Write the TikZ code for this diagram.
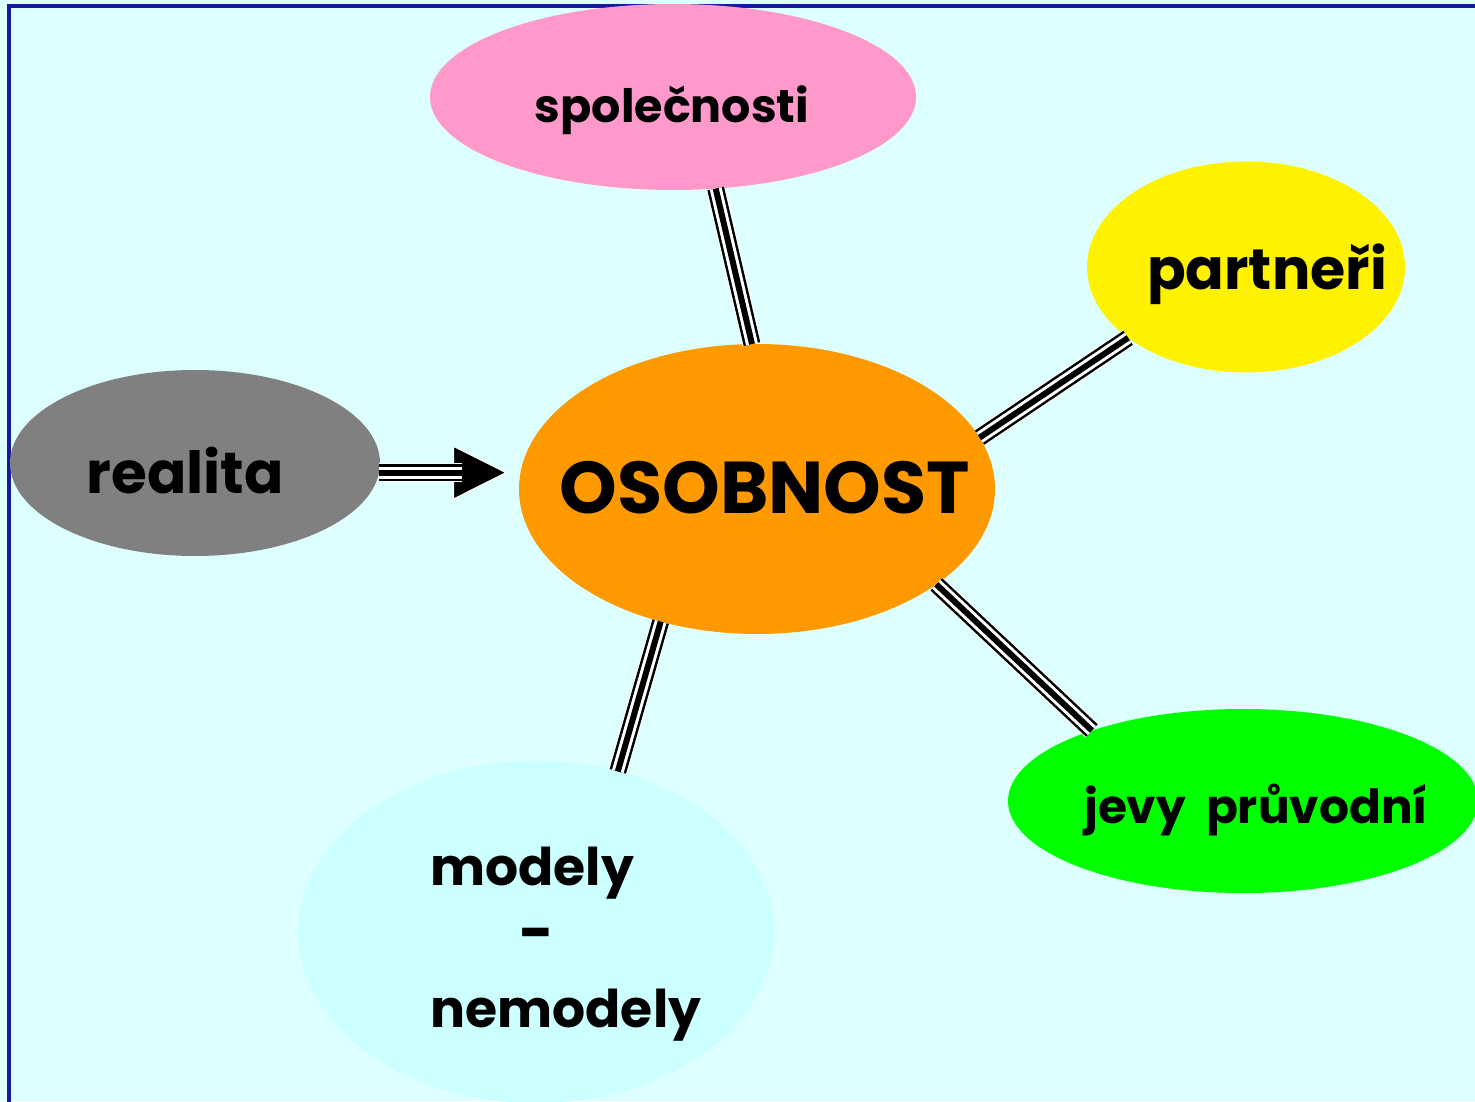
\documentclass[tikz,border=0pt]{standalone}
\usepackage{fontspec}
\setmainfont{Poppins}
\usepackage{xcolor}
\usetikzlibrary{arrows.meta}
\usetikzlibrary{positioning}
\usetikzlibrary{shapes.geometric}
\definecolor{bgcyan}{RGB}{221,255,255}
\definecolor{framblue}{RGB}{24,24,160}
\definecolor{spolpink}{RGB}{255,153,204}
\definecolor{osoborange}{RGB}{255,153,0}
\definecolor{realgray}{RGB}{128,128,128}
\definecolor{jevygreen}{RGB}{0,255,0}
\definecolor{modelcyan}{RGB}{204,255,255}

\begin{document}
\begin{tikzpicture}[x=0.5pt, y=-0.5pt,
		bubble/.style={ellipse, inner sep=0pt, outer sep=0pt},
		lbl/.style={font=\bfseries\fontsize{#1}{#1}\selectfont, inner sep=0pt, anchor=base},
		triple/.style={preaction={draw=white, line width=9.5pt}, preaction={draw=black, line width=8.5pt}, preaction={draw=white, line width=6pt}, draw=black, line width=3pt}]
				\useasboundingbox (0,0) rectangle (1475,1101);
				\clip (0,0) rectangle (1475,1101);
				\fill[bgcyan] (0,0) rectangle (1475,1101);
				\draw[framblue, line width=1.6pt] (9,6) rectangle (1500,1130);
				
				\node[bubble, fill=spolpink, minimum width=243pt, minimum height=93pt] (spol) at (673,97) {};
				\node[bubble, fill=yellow, minimum width=159pt, minimum height=105.5pt] (partn) at (1246,267) {};
				\node[bubble, fill=realgray, minimum width=185pt, minimum height=93pt] (real) at (195,463) {};
				\node[bubble, fill=osoborange, minimum width=238pt, minimum height=145pt] (osob) at (757,489) {};
				\node[bubble, fill=jevygreen, minimum width=235pt, minimum height=92pt] (jevy) at (1243,801) {};
				\node[bubble, fill=modelcyan, minimum width=238pt, minimum height=171pt] (model) at (536,932) {};
				
				\node[lbl=23pt] (spoltxt) at (672,123) {společnosti};
				\node[lbl=28.5pt] (partntxt) at (1267,290) {partneři};
				\node[lbl=29pt] (realtxt) at (185,493) {realita};
				\node[lbl=36.7pt] (osobtxt) at (765,513) {OSOBNOST};
				\node[lbl=23.5pt] (jevytxt) at (1256,823) {jevy\hspace{5pt} průvodní};
				\node[lbl=26pt, anchor=base west] (modtxt) at (430,885) {modely};
				\node[lbl=30pt, anchor=center] (dashtxt) at (537,941) {-};
				\node[lbl=26pt, anchor=base west] (nemodtxt) at (430,1027) {nemodely};
				
				\draw[triple] (spol.295.3) -- (osob.92.8);
				\draw[triple] (osob.13.4) -- (partn.211.1);
				\draw[triple] (osob.-28.7) -- (jevy.155.8);
				\draw[triple] (osob.234.8) -- (model.63.2);
				
				\coordinate (tip) at (real.-3.7 -| 507,0);
				\coordinate (shaftend) at (real.-3.7 -| 462,0);
				\draw[white, line width=0.5pt, -{Triangle[length=27pt, width=27pt, fill=black]}] (real.-3.7) -- (tip);
				\draw[triple] (real.-3.7) -- (shaftend);
			\end{tikzpicture}
\end{document}
